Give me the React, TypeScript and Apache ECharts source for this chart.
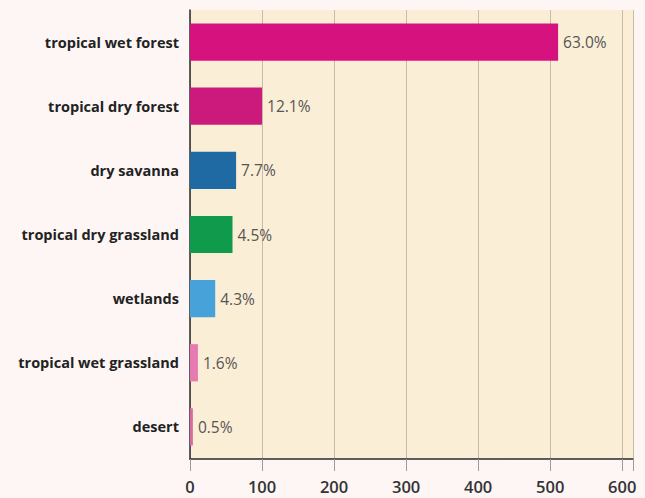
import React, { useEffect, useRef } from "react";
import * as echarts from "echarts";

const categories = [
  "tropical wet forest",
  "tropical dry forest",
  "dry savanna",
  "tropical dry grassland",
  "wetlands",
  "tropical wet grassland",
  "desert",
];
const values = [511, 100, 64, 59, 35, 11, 4];
const percentLabels = ["63.0%", "12.1%", "7.7%", "4.5%", "4.3%", "1.6%", "0.5%"];
const barColors = ["#d6127f", "#cc1a7c", "#1f6aa3", "#0f9a4c", "#48a2da", "#e77ab2", "#d86aa2"];

export default function App() {
  const ref = useRef<HTMLDivElement>(null);
  useEffect(() => {
    if (!ref.current) return;
    const chart = echarts.init(ref.current, null, { renderer: "svg" });
    chart.setOption({
      animation: false,
      backgroundColor: "#fdf6f5",
      grid: {
        left: 190,
        right: 12,
        top: 10,
        bottom: 39,
        show: true,
        backgroundColor: "#fbeed6",
        borderWidth: 0,
      },
      xAxis: {
        type: "value",
        min: 0,
        max: 615,
        interval: 100,
        axisLine: { show: true, onZero: false, lineStyle: { color: "#2a2a2a", width: 1.5 } },
        axisTick: { show: true, length: 12, lineStyle: { color: "#9a9a9a" } },
        axisLabel: {
          margin: 19,
          color: "#333",
          fontSize: 16.5,
          fontWeight: 600,
          fontFamily: "Open Sans",
          formatter: (v: number) => (v % 100 === 0 ? String(v) : ""),
        },
        splitLine: { show: true, lineStyle: { color: "#c9bca6", width: 1 } },
      },
      yAxis: {
        type: "category",
        data: categories,
        inverse: true,
        axisLine: { show: true, lineStyle: { color: "#2a2a2a", width: 1.5 } },
        axisTick: { show: false },
        axisLabel: {
          margin: 11,
          color: "#222",
          fontSize: 14.5,
          fontWeight: "bold",
          fontFamily: "Open Sans",
        },
        splitLine: { show: false },
      },
      series: [
        {
          type: "bar",
          data: values.map((v, i) => ({ value: v, itemStyle: { color: barColors[i] } })),
          barCategoryGap: "42%",
          label: {
            show: true,
            position: "right",
            distance: 5,
            color: "#555",
            fontSize: 15.5,
            fontFamily: "Open Sans",
            formatter: (p: any) => percentLabels[p.dataIndex],
          },
        },
      ],
    });
    return () => chart.dispose();
  }, []);
  return <div ref={ref} style={{ width: 645, height: 498, position: "fixed", left: 0, top: 0 }} />;
}
